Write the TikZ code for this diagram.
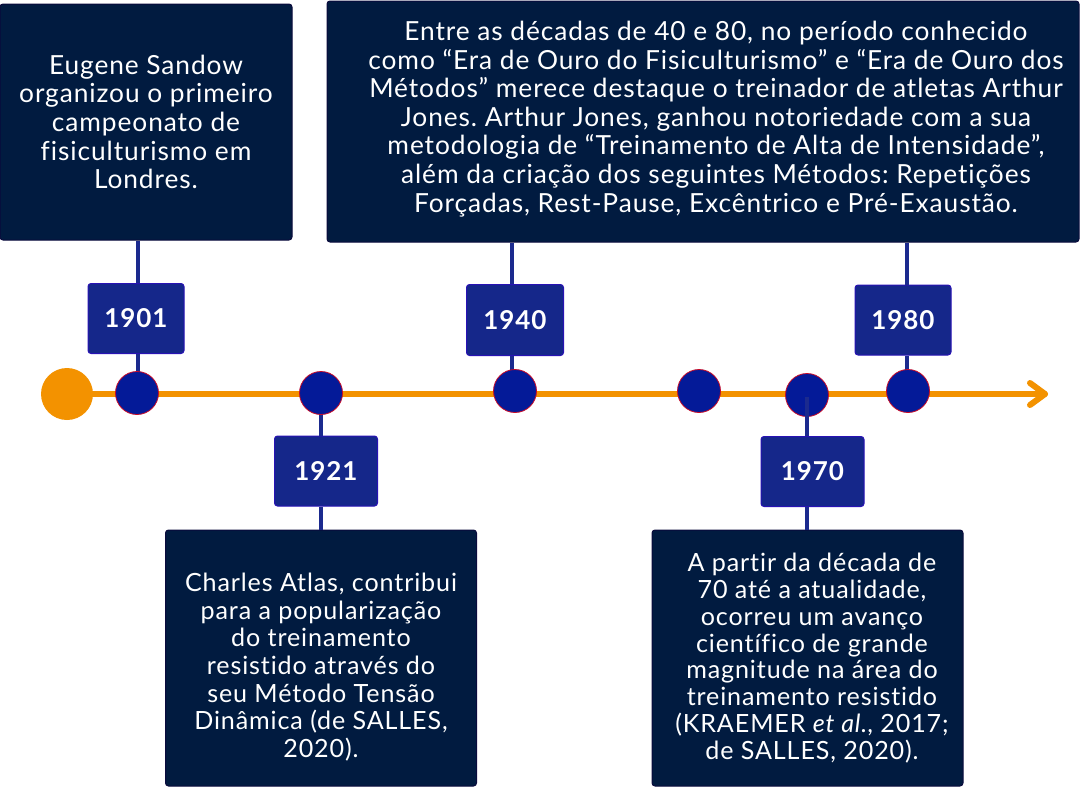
\documentclass[tikz,border=0pt]{standalone}
\usepackage{fontspec}
\setmainfont{Lato}[LetterSpace=3.5, Ligatures=NoCommon]
\definecolor{boxfill}{RGB}{1,27,64}
\definecolor{boxborder}{RGB}{10,10,60}
\definecolor{yearfill}{RGB}{21,39,138}
\definecolor{yearborder}{RGB}{40,18,180}
\definecolor{dotfill}{RGB}{4,26,152}
\definecolor{dotborder}{RGB}{200,10,40}
\definecolor{conncol}{RGB}{27,42,142}
\definecolor{tlorange}{RGB}{243,146,0}
\begin{document}
\frenchspacing
\begin{tikzpicture}[x=1pt,y=-1pt,
  textbox/.style={draw=boxborder, fill=boxfill, rounded corners=3pt, line width=1pt, inner sep=0pt},
  boxtext/.style={text=white, align=center, font=\fontsize{26.3}{28.6}\selectfont, inner sep=0pt},
  smalltext/.style={boxtext, font=\fontsize{25.1}{#1}\selectfont},
  yearbox/.style={draw=yearborder, fill=yearfill, rounded corners=3pt, line width=1pt, inner sep=0pt,
     text=white, font=\fontsize{26}{28}\selectfont\bfseries},
  dot/.style={circle, draw=dotborder, fill=dotfill, minimum size=43pt, inner sep=0pt, line width=0.8pt},
  conn/.style={draw=conncol, line width=4.5pt},
  tl/.style={draw=tlorange, line width=6pt, line cap=round, line join=round}]
\useasboundingbox (0,0) rectangle (1080,788);

% text boxes
\node[textbox, minimum width=292pt, minimum height=236pt] (A) at (146,122) {};
\node[boxtext] (At) at (146,122) {Eugene Sandow\\organizou o primeiro\\campeonato de\\fisiculturismo em\\Londres.};

\node[textbox, minimum width=752pt, minimum height=241pt] (C) at (703,121.5) {};
\node[boxtext] (Ct) at (716,119) {Entre as décadas de 40 e 80, no período conhecido\\como “Era de Ouro do Fisiculturismo” e “Era de Ouro dos\\Métodos” merece destaque o treinador de atletas Arthur\\Jones. Arthur Jones, ganhou notoriedade com a sua\\metodologia de “Treinamento de Alta de Intensidade”,\\além da criação dos seguintes Métodos: Repetições\\Forçadas, Rest-Pause, Excêntrico e Pré-Exaustão.};

\node[textbox, minimum width=311pt, minimum height=256pt] (B) at (321,658) {};
\node[smalltext=27.7] (Bt) at (321,667) {Charles Atlas, contribui\\para a popularização\\do treinamento\\resistido através do\\seu Método Tensão\\Dinâmica (de SALLES,\\2020).};

\node[textbox, minimum width=311pt, minimum height=256pt] (D) at (807.5,658) {};
\node[smalltext=26.8] (Dt) at (812,658) {A partir da década de\\70 até a atualidade,\\ocorreu um avanço\\científico de grande\\magnitude na área do\\treinamento resistido\\(KRAEMER \textit{et al}., 2017;\\de SALLES, 2020).};

% timeline
\node[circle, fill=tlorange, minimum size=52pt, inner sep=0pt] (c0) at (67,394) {};
\coordinate (tip) at (1045,394);
\coordinate (armU) at (1030,383);
\coordinate (armD) at (1030,405);
\draw[tl] (c0.center) -- (tip);
\draw[tl] (armU) -- (tip) -- (armD);

% year boxes
\node[yearbox, minimum width=96pt, minimum height=70pt] (y1901) at (136,318.5) {1901};
\node[yearbox, minimum width=103pt, minimum height=70pt] (y1921) at (326,471) {1921};
\node[yearbox, minimum width=97pt, minimum height=71pt] (y1940) at (515,320) {1940};
\node[yearbox, minimum width=96pt, minimum height=70pt] (y1980) at (903,320) {1980};
\node[yearbox, minimum width=103pt, minimum height=70pt] (y1970) at (812.5,471.5) {1970};

% connectors behind dots
\coordinate (c1p) at (138,393);
\coordinate (c2p) at (321,393);
\coordinate (c3p) at (512,392);
\coordinate (c6p) at (907,392);
\draw[conn] (c1p |- A.south) -- (c1p |- y1901.north);
\draw[conn] (c1p |- y1901.south) -- (c1p);
\draw[conn] (c2p) -- (c2p |- y1921.north);
\draw[conn] (c2p |- y1921.south) -- (c2p |- B.north);
\draw[conn] (c3p |- C.south) -- (c3p |- y1940.north);
\draw[conn] (c3p |- y1940.south) -- (c3p);
\draw[conn] (c6p |- C.south) -- (c6p |- y1980.north);
\draw[conn] (c6p |- y1980.south) -- (c6p);

% dots
\node[dot] (c1) at (137,393) {};
\node[dot] (c2) at (321,393) {};
\node[dot] (c3) at (515,391) {};
\node[dot] (c4) at (699,391) {};
\node[dot] (c5) at (807,395) {};
\node[dot] (c6) at (908,391) {};

% 1970 connector over its dot
\draw[conn] ([yshift=-2pt]c5.center) -- (c5 |- y1970.north);
\draw[conn] (c5 |- y1970.south) -- (c5 |- D.north);
\end{tikzpicture}
\end{document}
